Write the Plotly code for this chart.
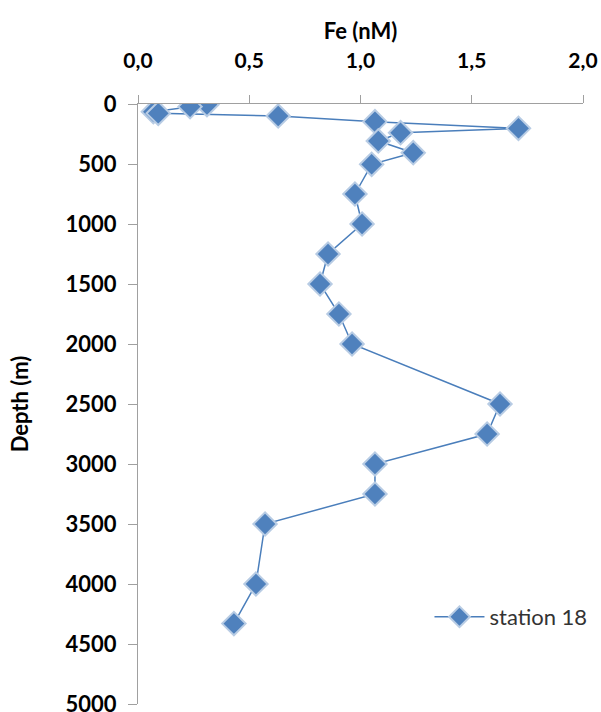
import plotly.graph_objects as go

# Data
fe_nM = [0.31, 0.234, 0.069, 0.091, 0.63, 1.065, 1.71, 1.18, 1.08, 1.237, 1.05,
         0.975, 1.007, 0.854, 0.818, 0.903, 0.962, 1.627, 1.569, 1.065, 1.065,
         0.571, 0.53, 0.431]
depth_m = [5, 22, 64, 78, 100, 147, 203, 239, 308, 406, 503,
           750, 1000, 1250, 1500, 1750, 2000, 2500, 2750, 3000, 3250,
           3500, 4000, 4330]
series_name = "station 18"

x_tickvals = [0.0, 0.5, 1.0, 1.5, 2.0]
x_ticktext = ["0,0", "0,5", "1,0", "1,5", "2,0"]
y_tickvals = [0, 500, 1000, 1500, 2000, 2500, 3000, 3500, 4000, 4500, 5000]

FONT = "Lato, Open Sans, sans-serif"

fig = go.Figure()
fig.add_trace(go.Scatter(
    x=fe_nM, y=depth_m, mode="lines+markers", name=series_name,
    line=dict(color="#4A7EBB", width=1.5),
    marker=dict(symbol="diamond", size=18, color="#4F81BD",
                line=dict(color="#B8CCE4", width=2)),
))

fig.update_layout(
    width=601, height=712,
    margin=dict(l=138, r=18, t=104, b=8, autoexpand=False),
    paper_bgcolor="white", plot_bgcolor="white",
    font=dict(family=FONT, color="#000000"),
    showlegend=True,
    legend=dict(x=0.655, y=0.145, xanchor="left", yanchor="middle",
                bgcolor="rgba(0,0,0,0)", itemwidth=50,
                font=dict(family=FONT, size=22, color="#333333")),
    xaxis=dict(
        side="top", range=[0, 2], tickvals=x_tickvals, ticktext=x_ticktext,
        automargin=False,
        showgrid=False, zeroline=False, showline=True, linecolor="#A0A0A0",
        linewidth=1, ticks="outside", ticklen=8, tickcolor="#A0A0A0",
        tickfont=dict(family=FONT, size=21, color="#000000", weight="bold"),
        ticklabelstandoff=19,
        title=dict(text="<b>Fe (nM)</b>", font=dict(family=FONT, size=22),
                   standoff=0),
    ),
    yaxis=dict(
        range=[5000, 0], tickvals=y_tickvals, automargin=False,
        showgrid=False, zeroline=False, showline=True, linecolor="#A0A0A0",
        linewidth=1, ticks="outside", ticklen=9, tickcolor="#A0A0A0",
        tickfont=dict(family=FONT, size=22, color="#000000", weight="bold"),
        ticklabelstandoff=7, ticklabeloverflow="allow",
        title=dict(text="<b>Depth (m)</b>", font=dict(family=FONT, size=22),
                   standoff=30),
    ),
)

fig.write_html("out.html",
               config={"displayModeBar": False},
               post_script="document.body.style.margin='0';")
